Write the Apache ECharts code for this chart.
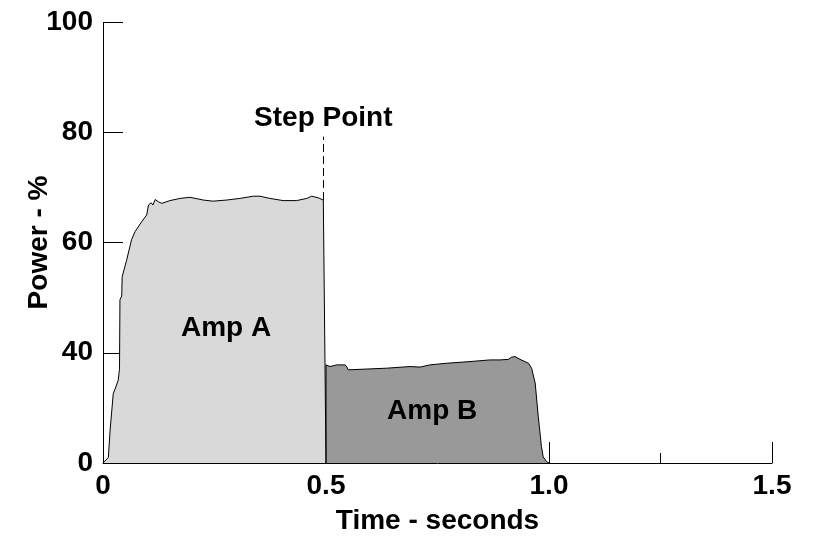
<!DOCTYPE html>
<html>
<head>
<meta charset="utf-8">
<script src="https://cdn.jsdelivr.net/npm/echarts@6.0.0/dist/echarts.min.js"></script>
<style>
  html, body { margin: 0; padding: 0; background: #fff; }
  #chart { width: 814px; height: 544px; }
</style>
</head>
<body>
<div id="chart"></div>
<script>
// Amp A trace, [time s, power %]
const ampA = [
  [0, 0], [0.012, 21], [0.016, 26], [0.023, 32.6], [0.028, 33.6], [0.034, 35],
  [0.037, 37], [0.038, 49.6], [0.042, 50.3], [0.043, 53.8], [0.053, 56.8],
  [0.064, 60.5], [0.072, 62], [0.087, 63.8], [0.098, 65], [0.102, 66.8],
  [0.108, 67.2], [0.112, 66.8], [0.117, 67.8], [0.124, 67.4], [0.132, 67.1],
  [0.150, 67.6], [0.173, 68], [0.195, 68.2], [0.225, 67.7], [0.247, 67.5],
  [0.277, 67.7], [0.307, 68], [0.337, 68.4], [0.352, 68.4], [0.374, 68],
  [0.404, 67.6], [0.434, 67.6], [0.457, 68], [0.468, 68.4], [0.483, 68.1],
  [0.494, 67.7], [0.5, 0]
];
// Amp B trace
const ampB = [
  [0.5, 0], [0.5, 37.8], [0.509, 37.5], [0.524, 37.8], [0.543, 37.8], [0.547, 37.4],
  [0.550, 36.9], [0.636, 37.2], [0.688, 37.5], [0.711, 37.4], [0.733, 37.8],
  [0.771, 38.1], [0.823, 38.4], [0.868, 38.7], [0.890, 38.7], [0.909, 38.8],
  [0.916, 39.2], [0.924, 39.3], [0.935, 38.8], [0.954, 38.1], [0.961, 37.2],
  [0.963, 37], [0.969, 34.5], [0.976, 28.4], [0.983, 23], [0.987, 21.1],
  [0.995, 20.2], [1.0, 0]
];
const xTicks = [0, 0.5, 1.0, 1.5];
const xTickLabels = ['0', '0.5', '1.0', '1.5'];
const yTicks = [0, 40, 60, 80, 100];
const stepPoint = [[0.494, 67.7], [0.494, 79.2]];
const ampLabels = [['Amp A', 0.276, 44.5], ['Amp B', 0.738, 29.3]];

const font = 'Liberation Sans, Arial, sans-serif';
const txt = { color: '#000', fontFamily: font, fontWeight: 'bold', fontSize: 28 };

const chart = echarts.init(document.getElementById('chart'));
chart.setOption({
  animation: false,
  grid: { left: 103, top: 22, right: 42, bottom: 81 },
  xAxis: {
    type: 'value', min: 0, max: 1.5, interval: 0.5,
    name: 'Time - seconds', nameLocation: 'middle', nameGap: 44,
    nameTextStyle: txt,
    axisLine: { lineStyle: { color: '#000', width: 1 } },
    axisTick: { inside: true, length: 21, lineStyle: { color: '#000' } },
    minorTick: { show: true, splitNumber: 2, length: 10, lineStyle: { color: '#000' } },
    axisLabel: Object.assign({ margin: 9, formatter: v => xTickLabels[xTicks.indexOf(v)] }, txt),
    splitLine: { show: false }
  },
  yAxis: {
    type: 'value', min: 0, max: 100, interval: 20,
    breaks: [{ start: 0, end: 20, gap: 0 }],
    breakArea: { show: false },
    name: 'Power - %', nameLocation: 'middle', nameGap: 50, nameMoveOverlap: false,
    nameTextStyle: txt,
    axisLine: { show: true, lineStyle: { color: '#000', width: 1 } },
    axisTick: { inside: true, length: 20, customValues: yTicks.slice(1), lineStyle: { color: '#000' } },
    axisLabel: Object.assign({ margin: 10, customValues: yTicks }, txt),
    splitLine: { show: false }
  },
  series: [
    {
      type: 'line', data: ampA, symbol: 'none',
      lineStyle: { color: '#000', width: 1 },
      areaStyle: { color: '#d9d9d9', opacity: 1 },
      markLine: {
        silent: true, symbol: 'none',
        lineStyle: { color: '#000', width: 1, type: [8, 4] },
        label: Object.assign({ show: true, position: 'end', distance: 4, formatter: 'Step Point' }, txt),
        data: [[{ coord: stepPoint[0] }, { coord: stepPoint[1] }]]
      },
      markPoint: {
        symbolSize: 0,
        label: Object.assign({ show: true, position: 'inside', formatter: p => p.name }, txt),
        data: [{ name: ampLabels[0][0], coord: [ampLabels[0][1], ampLabels[0][2]] }]
      }
    },
    {
      type: 'line', data: ampB, symbol: 'none',
      lineStyle: { color: '#000', width: 1 },
      areaStyle: { color: '#999999', opacity: 1 },
      markPoint: {
        symbolSize: 0,
        label: Object.assign({ show: true, position: 'inside', formatter: p => p.name }, txt),
        data: [{ name: ampLabels[1][0], coord: [ampLabels[1][1], ampLabels[1][2]] }]
      }
    }
  ]
});
</script>
</body>
</html>
